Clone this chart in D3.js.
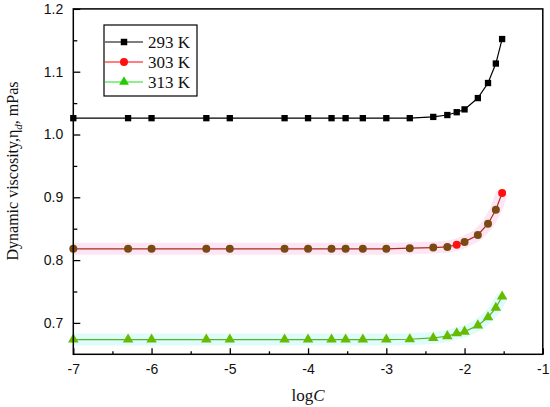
<!DOCTYPE html>
<html>
<head>
<meta charset="utf-8">
<script src="https://cdn.jsdelivr.net/npm/d3@7"></script>
<style>
  body { margin: 0; background: #fff; }
  .tick-label { font-family: "Liberation Sans", Arial, sans-serif; font-size: 14px; fill: #111; }
  .title { font-family: "Liberation Serif", "Times New Roman", serif; fill: #111; }
</style>
</head>
<body>
<div class="chart"></div>
<script>
// logC values shared by every series
const logC = [-7, -6.3, -6, -5.3, -5, -4.3, -4, -3.7, -3.52, -3.3, -3, -2.7,
              -2.4, -2.22, -2.1, -2.0, -1.83, -1.7, -1.6, -1.52];
const eta293 = [1.026, 1.026, 1.026, 1.026, 1.026, 1.026, 1.026, 1.026, 1.026, 1.026, 1.026, 1.026,
                1.028, 1.031, 1.0355, 1.040, 1.058, 1.082, 1.113, 1.152];
const eta303 = [0.818, 0.818, 0.818, 0.818, 0.818, 0.818, 0.818, 0.818, 0.818, 0.818, 0.818, 0.819,
                0.820, 0.821, 0.8245, 0.829, 0.840, 0.858, 0.880, 0.907];
const eta313 = [0.6735, 0.6735, 0.6735, 0.6735, 0.6735, 0.6735, 0.6735, 0.6735, 0.6735, 0.6735, 0.6735, 0.674,
                0.676, 0.679, 0.6835, 0.686, 0.696, 0.709, 0.724, 0.742];
const seriesNames = ['293 K', '303 K', '313 K'];
const xTicks = [-7, -6, -5, -4, -3, -2, -1];
const yTicks = [0.7, 0.8, 0.9, 1.0, 1.1, 1.2];

const width = 550, height = 407;
const margin = {left: 73.3, right: 7.2, top: 8.9, bottom: 52.7};

const svg = d3.select('.chart').append('svg')
  .attr('width', width)
  .attr('height', height);

const x = d3.scaleLinear().domain([-7, -1]).range([margin.left, width - margin.right]);
const y = d3.scaleLinear().domain([0.65, 1.2]).range([height - margin.bottom, margin.top]);

const series = [
  {name: seriesNames[0], values: eta293, line: '#000', fill: '#000', shape: d3.symbolSquare, band: null},
  {name: seriesNames[1], values: eta303, line: '#b0281e', fill: '#7a4a12', shape: d3.symbolCircle, band: '#fde6f4'},
  {name: seriesNames[2], values: eta313, line: '#4cbb22', fill: '#66bb00', shape: d3.symbolTriangle, band: '#e0fbfb'}
];
// points that came out bright red in the 303 K series
const brightRed = [-2.1, -1.52];

const line = d3.line().x((d) => x(d[0])).y((d) => y(d[1]));

// faint bands behind the coloured curves
series.filter((s) => s.band).forEach((s) => {
  const pts = logC.map((c, i) => [c, s.values[i]]);
  svg.append('path')
    .attr('d', line(pts))
    .attr('fill', 'none')
    .attr('stroke', s.band)
    .attr('stroke-width', 12);
});

// curves + markers
series.forEach((s) => {
  const pts = logC.map((c, i) => [c, s.values[i]]);
  svg.append('path')
    .attr('d', line(pts))
    .attr('fill', 'none')
    .attr('stroke', s.line)
    .attr('stroke-width', 1.2);
  const size = s.shape === d3.symbolTriangle ? 48 : s.shape === d3.symbolSquare ? 40 : 50;
  svg.append('g').selectAll('path')
    .data(pts)
    .enter()
    .append('path')
      .attr('transform', (d) => `translate(${x(d[0])},${y(d[1])})`)
      .attr('d', d3.symbol().type(s.shape).size(size))
      .attr('fill', (d) => (s.name === '303 K' && brightRed.includes(d[0])) ? '#ff1010' : s.fill);
});

// frame
svg.append('rect')
  .attr('x', x(-7)).attr('y', y(1.2))
  .attr('width', x(-1) - x(-7)).attr('height', y(0.65) - y(1.2))
  .attr('fill', 'none').attr('stroke', '#000').attr('stroke-width', 1.5);

// x axis (ticks inward)
const xAxis = d3.axisBottom(x).tickValues(xTicks).tickSize(-6).tickPadding(10)
  .tickFormat(d3.format('d'));
const gx = svg.append('g').attr('transform', `translate(0,${y(0.65)})`).call(xAxis);
gx.select('.domain').remove();
gx.selectAll('.tick line').attr('stroke-width', 1.3);
gx.selectAll('.tick text').attr('class', 'tick-label').text((d) => d3.format('d')(d).replace('−', '-'));
svg.append('g').attr('transform', `translate(0,${y(0.65)})`)
  .call(d3.axisBottom(x).tickValues(d3.range(-6.5, -1, 1)).tickSize(-3).tickFormat(''))
  .call((g) => g.select('.domain').remove())
  .selectAll('.tick line').attr('stroke-width', 1.3);

// y axis
const gy = svg.append('g').attr('transform', `translate(${x(-7)},0)`)
  .call(d3.axisLeft(y).tickValues(yTicks).tickSize(-7).tickPadding(10).tickFormat(d3.format('.1f')));
gy.select('.domain').remove();
gy.selectAll('.tick line').attr('stroke-width', 1.3);
gy.selectAll('.tick text').attr('class', 'tick-label');
svg.append('g').attr('transform', `translate(${x(-7)},0)`)
  .call(d3.axisLeft(y).tickValues(d3.range(0.75, 1.2, 0.1)).tickSize(-4).tickFormat(''))
  .call((g) => g.select('.domain').remove())
  .selectAll('.tick line').attr('stroke-width', 1.3);

// axis titles
const xt = svg.append('text').attr('class', 'title')
  .attr('x', 308).attr('y', 401).attr('text-anchor', 'middle').style('font-size', '17px');
xt.append('tspan').text('log');
xt.append('tspan').attr('font-style', 'italic').text('C');

const yt = svg.append('text').attr('class', 'title')
  .attr('transform', 'translate(18,171) rotate(-90)')
  .attr('text-anchor', 'middle').style('font-size', '16px');
yt.append('tspan').text('Dynamic viscosity,\u03b7');
yt.append('tspan').attr('dy', 4).style('font-size', '11px').attr('font-style', 'italic').text('d');
yt.append('tspan').attr('dy', -4).text(', mPas');

// legend
const legend = svg.append('g').attr('transform', 'translate(104,25)');
legend.append('rect').attr('width', 93).attr('height', 71)
  .attr('fill', '#fff').attr('stroke', '#000').attr('stroke-width', 1.2);
const legendLine = ['#000', '#ff0000', '#22dd22'];
const legendFill = ['#000', '#ff1010', '#22cc00'];
const items = legend.selectAll('g.item')
  .data(series)
  .enter()
  .append('g')
    .attr('transform', (d, i) => `translate(0,${17 + i * 20})`);
items.append('line').attr('x1', 1).attr('x2', 39).attr('y1', 0).attr('y2', 0)
  .attr('stroke', (d, i) => legendLine[i]).attr('stroke-width', 1.2);
items.append('path').attr('transform', 'translate(20,0)')
  .attr('d', (d) => d3.symbol().type(d.shape).size(d.shape === d3.symbolCircle ? 50 : 42)())
  .attr('fill', (d, i) => legendFill[i]);
items.append('text').attr('class', 'title')
  .attr('x', 44).attr('y', 5.5).style('font-size', '17px')
  .text((d) => d.name);
</script>
</body>
</html>
